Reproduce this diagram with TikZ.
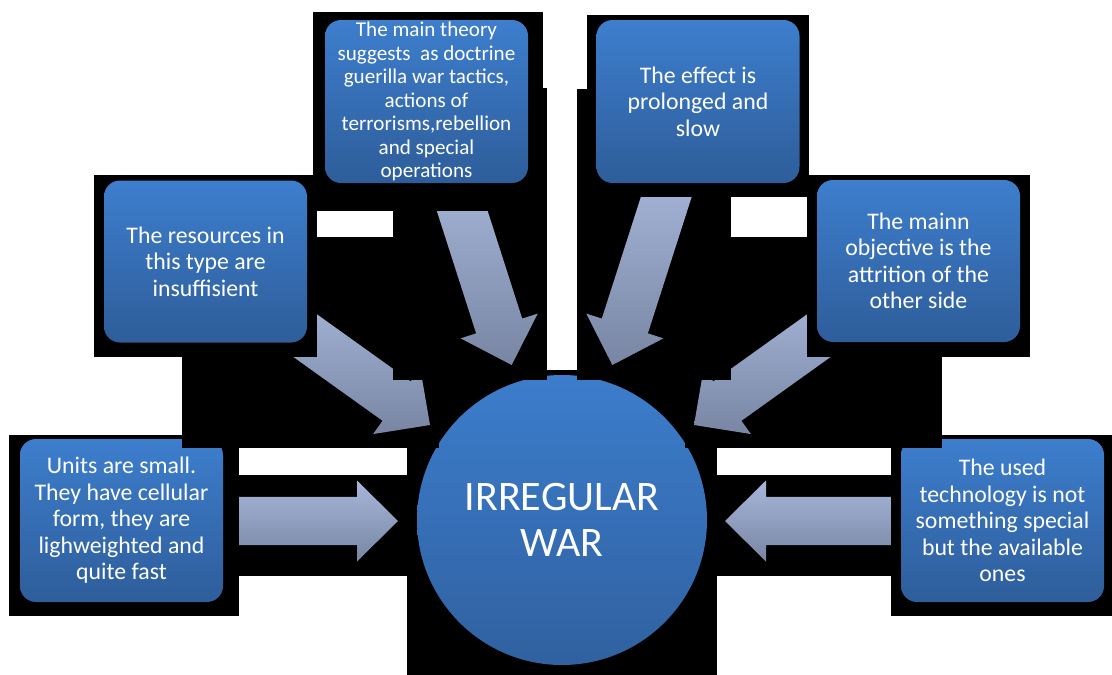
\documentclass[tikz,border=0pt]{standalone}
\usepackage{fontspec}
\setmainfont{Carlito}
\usetikzlibrary{calc}
\definecolor{boxtop}{RGB}{61,126,205}
\definecolor{boxbot}{RGB}{46,93,154}
\definecolor{circtop}{RGB}{60,125,204}
\definecolor{circbot}{RGB}{48,97,160}
\definecolor{arrtop}{RGB}{167,183,218}
\definecolor{arrbot}{RGB}{120,134,163}
\tikzset{
  bgrect/.style={fill=black},
  infobox/.style={rectangle, rounded corners=16pt, top color=boxtop, bottom color=boxbot,
    text=white, align=center, minimum width=203pt, minimum height=163pt, inner sep=0pt,
    font=\fontsize{23.8}{26.5}\selectfont},
  arrowfill/.style={top color=arrtop, bottom color=arrbot, draw=none},
}
\newcommand{\blkarrow}[4]{%
  \pgfmathsetmacro\angL{#3+90}%
  \pgfmathsetmacro\angR{#3-90}%
  \pgfmathsetmacro\angB{#3+180}%
  \coordinate (#1-tip) at (#2);
  \coordinate (#1-b) at ($(#1-tip)+(\angB:41)$);
  \coordinate (#1-t) at ($(#1-tip)+(\angB:#4)$);
  \shade[arrowfill] ($(#1-t)+(\angL:24.2)$) -- ($(#1-b)+(\angL:24.2)$) -- ($(#1-b)+(\angL:40.5)$)
    -- (#1-tip) -- ($(#1-b)+(\angR:40.5)$) -- ($(#1-b)+(\angR:24.2)$) -- ($(#1-t)+(\angR:24.2)$) -- cycle;
}
\begin{document}
\begin{tikzpicture}[x=1pt,y=-1pt]
\fill[white] (0,0) rectangle (1112,675);
\useasboundingbox (0,0) rectangle (1112,675);

% centre circle
\fill[bgrect] (407,370) rectangle (717,675);
\node[circle, minimum size=290pt, inner sep=0pt, top color=circtop, bottom color=circbot,
  text=white, align=center, font=\fontsize{42}{46.5}\selectfont] (war) at (562,520) {IRREGULAR\\WAR};

% left arrow and box
\fill[bgrect] (239,475) rectangle (407,576);
\blkarrow{aL}{398,521}{0}{200}
\fill[bgrect] (9,435) rectangle (239,616);
\node[infobox] (units) at (121.5,520.5) {Units are small.\\They have cellular\\form, they are\\lighweighted and\\quite fast};

% right arrow and box
\fill[bgrect] (717,475) rectangle (891,576);
\blkarrow{aR}{725,521}{180}{200}
\fill[bgrect] (891,435) rectangle (1112,616);
\node[infobox] (tech) at (1002.5,520.5) {The used\\technology is not\\something special\\but the available\\ones};

% upper left arrow and box
\fill[bgrect] (182,237) rectangle (439,448);
\blkarrow{aRB}{430,425}{35.6}{200}
\fill[bgrect] (94,175) rectangle (317,357);
\node[infobox, minimum height=162pt] (res) at (205.5,261.5) {The resources in\\this type are\\insuffisient};

% upper right arrow and box
\fill[bgrect] (685,237) rectangle (942,448);
\blkarrow{aMB}{694,425}{144.4}{200}
\fill[bgrect] (807,175) rectangle (1030,357);
\node[infobox, minimum height=162pt] (obj) at (918.5,261) {The mainn\\objective is the\\attrition of the\\other side};

% top left arrow and box
\fill[bgrect] (393,88) rectangle (547,380);
\blkarrow{aTB}{511.7,365}{72.2}{200}
\fill[bgrect] (313,12) rectangle (543,211);
\node[infobox, font=\fontsize{21.1}{23.5}\selectfont] (theory) at (426.5,101.5) {The main theory\\suggests\ \ as doctrine\\guerilla war tactics,\\actions of\\terrorisms,rebellion\\and special\\operations};

% top right arrow and box
\fill[bgrect] (577,89) rectangle (731,380);
\blkarrow{aEB}{612.3,365}{107.8}{200}
\fill[bgrect] (587,15) rectangle (809,197);
\node[infobox] (effect) at (698,101.5) {The effect is\\prolonged and\\slow};
\end{tikzpicture}
\end{document}
